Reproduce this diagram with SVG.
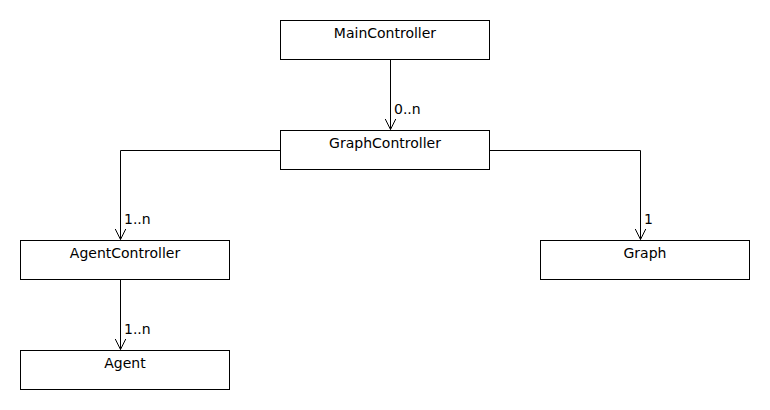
<svg xmlns="http://www.w3.org/2000/svg" width="770" height="410" viewBox="0 0 770 410">
<style>
.box{fill:#fff;stroke:#000;stroke-width:1}
.t{font-family:"DejaVu Sans",sans-serif;font-size:14px;fill:#000;text-anchor:middle}
.l{font-family:"DejaVu Sans",sans-serif;font-size:14px;fill:#000}
.c{fill:none;stroke:#000;stroke-width:1}
</style>
<defs>
<marker id="arr" markerWidth="12" markerHeight="14" refX="11" refY="6" orient="auto" markerUnits="userSpaceOnUse" viewBox="0 0 12 12">
<path d="M0,0.5 L11,6 L0,11.5" fill="none" stroke="#000" stroke-width="1"/>
</marker>
</defs>
<rect width="770" height="410" fill="#fff"/>
<g id="connectors">
<path class="c" d="M390.5,59.5 L390.5,129.5" marker-end="url(#arr)"/>
<text class="l" x="394" y="114">0..n</text>
<path class="c" d="M280.5,150.5 L120.5,150.5 L120.5,239.5" marker-end="url(#arr)"/>
<text class="l" x="124" y="224">1..n</text>
<path class="c" d="M489.5,150.5 L640.5,150.5 L640.5,239.5" marker-end="url(#arr)"/>
<text class="l" x="644" y="224">1</text>
<path class="c" d="M120.5,279.5 L120.5,349.5" marker-end="url(#arr)"/>
<text class="l" x="124" y="334">1..n</text>
</g>
<g id="MainController"><rect class="box" x="280.5" y="20.5" width="209" height="39"/><text class="t" x="385" y="38">MainController</text></g>
<g id="GraphController"><rect class="box" x="280.5" y="130.5" width="209" height="39"/><text class="t" x="385" y="148">GraphController</text></g>
<g id="AgentController"><rect class="box" x="20.5" y="240.5" width="209" height="39"/><text class="t" x="125" y="258">AgentController</text></g>
<g id="Graph"><rect class="box" x="540.5" y="240.5" width="209" height="39"/><text class="t" x="645" y="258">Graph</text></g>
<g id="Agent"><rect class="box" x="20.5" y="350.5" width="209" height="39"/><text class="t" x="125" y="368">Agent</text></g>
</svg>
